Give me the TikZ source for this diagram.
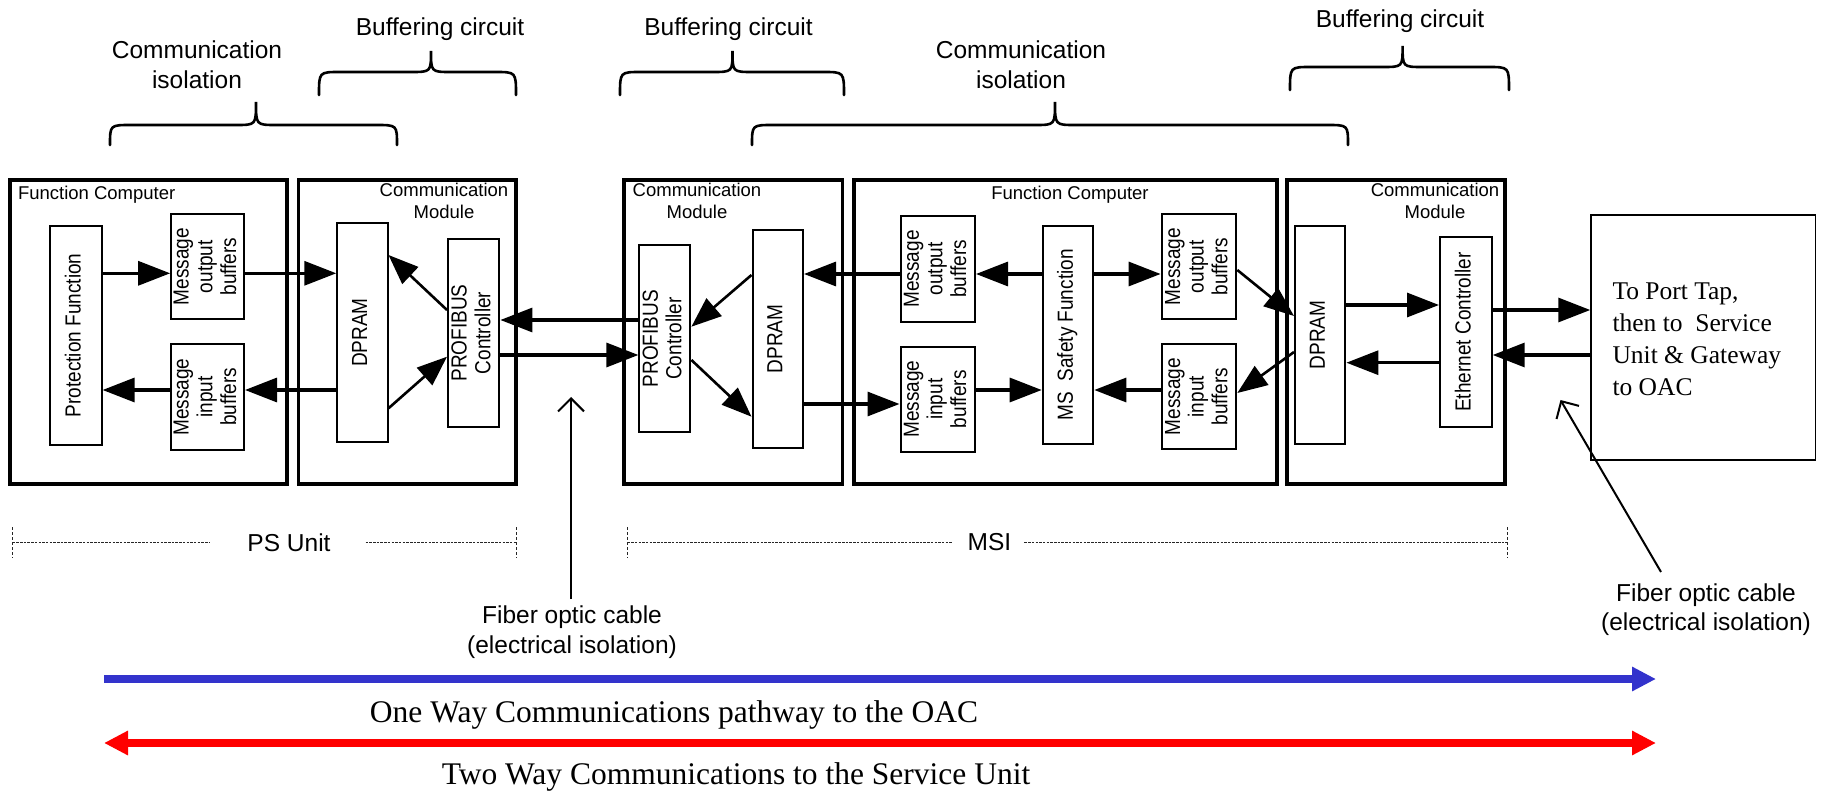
\documentclass[tikz,border=0pt]{standalone}
\usepackage{fontspec}
\usepackage{graphicx}
\setmainfont{Liberation Sans}
\newfontfamily\tnr{Liberation Serif}
\usetikzlibrary{arrows.meta}
\definecolor{blueA}{RGB}{51,51,204}
\definecolor{redA}{RGB}{255,0,0}
\newcommand\mybrace[6]{%
  \draw[bracestyle] (#1,#4) .. controls (#1,#5) .. ({#1+21},#5) -- ({#3-20},#5)
    .. controls (#3,#5) .. (#3,#6) .. controls (#3,#5) .. ({#3+20},#5)
    -- ({#2-21},#5) .. controls (#2,#5) .. (#2,#4);}
\newcommand\rtext[1]{\rotatebox{90}{\scalebox{1}[1.15]{\begin{tabular}{@{}c@{}}#1\end{tabular}}}}
\begin{document}
\begin{tikzpicture}[x=1pt,y=-1pt,
  obox/.style={draw, line width=3.8pt, inner sep=0pt},
  ibox/.style={draw, line width=2pt, inner sep=0pt, font=\fontsize{19}{20.6}\selectfont},
  conn/.style={line width=3.2pt, -{Triangle[length=32pt,width=24pt]}},
  dconn/.style={line width=2.6pt, -{Triangle[length=30pt,width=23pt]}},
  fiber/.style={line width=2pt, -{Straight Barb[length=13pt,width=26pt]}},
  bracestyle/.style={line width=2.6pt, line cap=round},
  biglabel/.style={font=\fontsize{24.5}{29.5}\selectfont, align=center, inner sep=0pt},
  smalllabel/.style={font=\fontsize{18.5}{22.5}\selectfont, align=center, inner sep=0pt},
  unitline/.style={line width=1.5pt, dash pattern=on 2.5pt off 1.2pt, black!85},
  unittick/.style={line width=1.3pt, dash pattern=on 3pt off 2pt, black!85},
  serifbig/.style={font=\tnr\fontsize{31.5}{36}\selectfont, inner sep=0pt},
  widearrow/.style={line width=7.5pt}
]
\useasboundingbox (0,0) rectangle (1829,791);

% ---------- top labels and braces ----------
\node[biglabel] (ci1) at (197,64.5) {Communication\\isolation};
\node[biglabel] (bc1) at (440,29.5) {Buffering circuit};
\node[biglabel] (bc2) at (728.5,29.5) {Buffering circuit};
\node[biglabel] (ci2) at (1021,64.5) {Communication\\isolation};
\node[biglabel] (bc3) at (1400,21.5) {Buffering circuit};
\mybrace{110}{397}{256}{145}{125}{102}
\mybrace{319}{516}{431}{95}{72}{51}
\mybrace{620}{844}{732.5}{95}{72}{51}
\mybrace{752}{1348}{1055}{145}{125}{102}
\mybrace{1290}{1509}{1402.6}{90}{67}{46}

% ---------- outer boxes ----------
\node[obox, minimum width=276.8pt, minimum height=304pt] (fc1) at (148.3,332) {};
\node[obox, minimum width=217.5pt, minimum height=304pt] (cm1) at (407.25,332) {};
\node[obox, minimum width=218.9pt, minimum height=304pt] (cm2) at (733.05,332) {};
\node[obox, minimum width=422.9pt, minimum height=304pt] (fc2) at (1065.15,332) {};
\node[obox, minimum width=217.7pt, minimum height=304pt] (cm3) at (1396.15,332) {};

\node[smalllabel, anchor=base west] (fc1l) at (17.8,200) {Function Computer};
\node[smalllabel, anchor=base] (fc2l) at (1070,200) {Function Computer};
\node[smalllabel] (cm1l) at (444,201) {Communication\\Module};
\node[smalllabel] (cm2l) at (697,201) {Communication\\Module};
\node[smalllabel] (cm3l) at (1435,201) {Communication\\Module};

% ---------- inner boxes ----------
\node[ibox, minimum width=51.4pt, minimum height=219.3pt] (pf) at (75.9,335.35) {\rtext{Protection Function}};
\node[ibox, minimum width=72.8pt, minimum height=105.3pt] (mo1) at (207.6,266.65) {\rtext{Message\\output\\buffers}};
\node[ibox, minimum width=72.8pt, minimum height=106pt] (mi1) at (207.6,397) {\rtext{Message\\input\\buffers}};
\node[ibox, minimum width=50.2pt, minimum height=218.4pt] (dp1) at (362.4,332.5) {\rtext{DPRAM}};
\node[ibox, minimum width=51.4pt, minimum height=187.4pt] (pb1) at (473.7,333) {\rtext{PROFIBUS\\Controller}};

\node[ibox, minimum width=51pt, minimum height=187.3pt] (pb2) at (664.9,338.65) {\rtext{PROFIBUS\\Controller}};
\node[ibox, minimum width=50.5pt, minimum height=217.7pt] (dp2) at (777.75,338.85) {\rtext{DPRAM}};
\node[ibox, minimum width=74.5pt, minimum height=105.7pt] (mo2) at (937.75,268.85) {\rtext{Message\\output\\buffers}};
\node[ibox, minimum width=74.5pt, minimum height=105pt] (mi2) at (937.75,399.2) {\rtext{Message\\input\\buffers}};
\node[ibox, minimum width=50.6pt, minimum height=218.3pt] (ms) at (1068,334.85) {\rtext{MS~ Safety Function}};
\node[ibox, minimum width=74.7pt, minimum height=105.3pt] (mo3) at (1198.95,266.65) {\rtext{Message\\output\\buffers}};
\node[ibox, minimum width=74.7pt, minimum height=105.3pt] (mi3) at (1198.95,396.65) {\rtext{Message\\input\\buffers}};

\node[ibox, minimum width=50.4pt, minimum height=218pt] (dp3) at (1320.2,335) {\rtext{DPRAM}};
\node[ibox, minimum width=51.7pt, minimum height=189.4pt] (eth) at (1465.85,332) {\rtext{Ethernet Controller}};

\node[draw, line width=1.5pt, minimum width=224.6pt, minimum height=245pt, inner sep=0pt] (pt) at (1703.3,337.5) {};
\node[font=\tnr\fontsize{25.5}{31.8}\selectfont, align=left, inner sep=0pt, anchor=north west] (ptt) at (1612.3,283)
  {To Port Tap,\\then to~ Service\\Unit \& Gateway\\to OAC};

% ---------- connectors ----------
\draw[conn] (pf.east |- 0,273.3) -- (mo1.west |- 0,273.3);
\draw[conn] (mo1.east |- 0,273.3) -- (dp1.west |- 0,273.3);
\draw[conn] (dp1.west |- 0,390) -- (mi1.east |- 0,390);
\draw[conn] (mi1.west |- 0,390) -- (pf.east |- 0,390);
\draw[dconn] (pb1.west |- 0,310) -- (dp1.east |- 0,255);
\draw[dconn] (dp1.east |- 0,408.3) -- (pb1.west |- 0,356.7);
\draw[conn] (pb2.west |- 0,320) -- (pb1.east |- 0,320);
\draw[conn] (pb1.east |- 0,355) -- (pb2.west |- 0,355);
\draw[dconn] (dp2.west |- 0,275) -- (pb2.east |- 0,326.7);
\draw[dconn] (pb2.east |- 0,360) -- (dp2.west |- 0,416.7);
\draw[conn] (mo2.west |- 0,274) -- (dp2.east |- 0,274);
\draw[conn] (dp2.east |- 0,404) -- (mi2.west |- 0,404);
\draw[conn] (ms.west |- 0,274) -- (mo2.east |- 0,274);
\draw[conn] (ms.east |- 0,274) -- (mo3.west |- 0,274);
\draw[conn] (mi2.east |- 0,390) -- (ms.west |- 0,390);
\draw[conn] (mi3.west |- 0,390) -- (ms.east |- 0,390);
\draw[dconn] (mo3.east |- 0,270) -- (dp3.west |- 0,316);
\draw[dconn] (dp3.west |- 0,352) -- (mi3.east |- 0,393);
\draw[conn] (dp3.east |- 0,305) -- (eth.west |- 0,305);
\draw[conn] (eth.west |- 0,362.7) -- (dp3.east |- 0,362.7);
\draw[conn] (eth.east |- 0,310) -- (pt.west |- 0,310);
\draw[conn] (pt.west |- 0,355) -- (eth.east |- 0,355);

% ---------- unit dimension lines ----------
\node[biglabel] (psu) at (289,542.5) {PS Unit};
\node[biglabel] (msi) at (989.5,542.5) {MSI};
\coordinate (ps0) at (12.6,542.7);
\coordinate (ps1) at (209.5,542.7);
\coordinate (ps2) at (365.6,542.7);
\coordinate (ps3) at (516.6,542.7);
\coordinate (ms0) at (627.4,542.7);
\coordinate (ms1) at (952,542.7);
\coordinate (ms2) at (1024.4,542.7);
\coordinate (ms3) at (1507.3,542.7);
\draw[unitline] (ps0) -- (ps1);
\draw[unitline] (ps2) -- (ps3);
\draw[unitline] (ms0) -- (ms1);
\draw[unitline] (ms2) -- (ms3);
\foreach \t in {ps0,ps3,ms0,ms3}{
  \draw[unittick] ([yshift=15.5pt]\t) -- ([yshift=-15.5pt]\t);
}

% ---------- fiber optic cables ----------
\node[biglabel] (fib1) at (572,632) {Fiber optic cable\\(electrical isolation)};
\node[biglabel] (fib2) at (1706,609.5) {Fiber optic cable\\(electrical isolation)};
\coordinate (fa1) at (571,397);
\coordinate (fb1) at (571,599);
\coordinate (fa2) at (1560.5,400);
\coordinate (fb2) at (1661,572);
\draw[fiber] (fb1) -- (fa1);
\draw[fiber] (fb2) -- (fa2);

% ---------- bottom pathway arrows ----------
\coordinate (bl) at (104,679);
\coordinate (br) at (1656,679);
\coordinate (rl) at (104,743);
\coordinate (rr) at (1656,743);
\draw[widearrow, color=blueA, -{Triangle[length=24pt,width=23pt]}] (bl) -- (br);
\draw[widearrow, color=redA, {Triangle[length=24pt,width=23pt]}-{Triangle[length=24pt,width=23pt]}] (rl) -- (rr);
\node[serifbig, anchor=base] (oneway) at (674,722) {One Way Communications pathway to the OAC};
\node[serifbig, anchor=base] (twoway) at (736,784) {Two Way Communications to the Service Unit};
\end{tikzpicture}
\end{document}
